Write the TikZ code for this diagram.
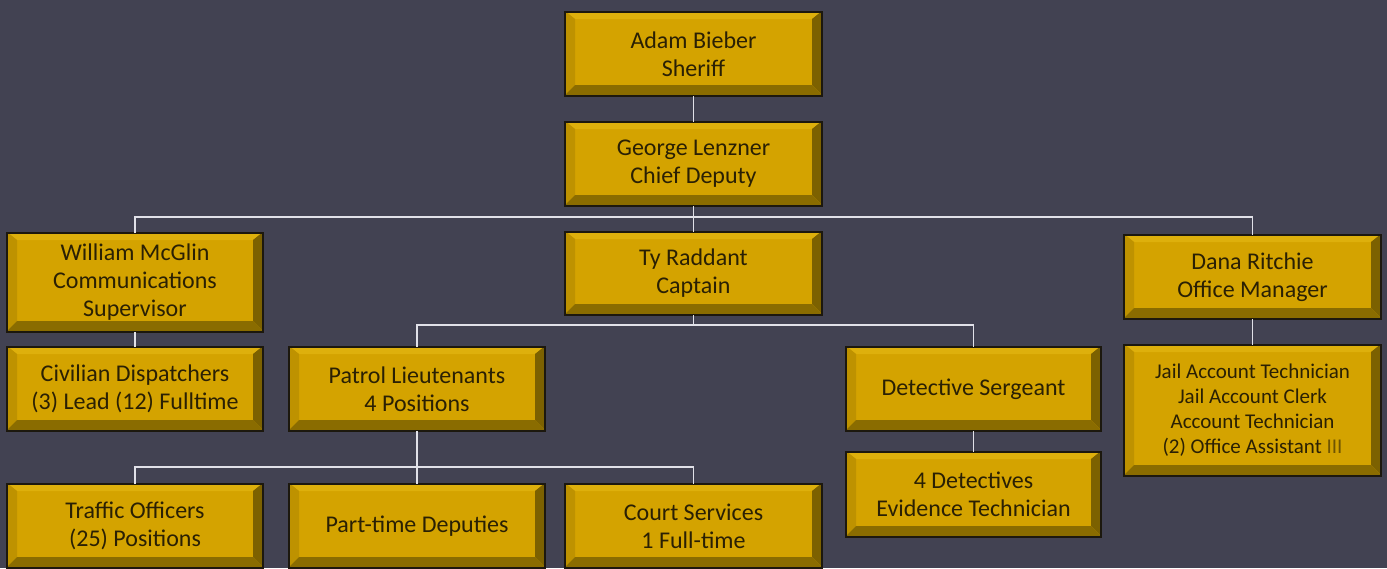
\documentclass[tikz,border=0pt]{standalone}
\usepackage{fontspec}
\setmainfont{Carlito}
\definecolor{bg}{RGB}{66,66,82}
\definecolor{face}{RGB}{212,163,0}
\definecolor{topb}{RGB}{222,176,12}
\definecolor{leftb}{RGB}{190,146,0}
\definecolor{rightb}{RGB}{124,97,0}
\definecolor{botb}{RGB}{138,108,0}
\definecolor{edge}{RGB}{28,24,14}
\definecolor{txt}{RGB}{42,32,4}
\definecolor{conncol}{RGB}{225,225,232}
\tikzset{
  boxnode/.style={draw=edge, line width=1.4pt, inner sep=0pt, outer sep=0pt, align=center,
    text=txt, font=\fontsize{24}{28}\selectfont},
  conn/.style={draw=conncol, line width=1.6pt},
}
\newcommand\orgbox[7][]{%
  \fill[face] (#3,#4) rectangle (#5,#6);
  \fill[topb] (#3,#4) -- (#5,#4) -- (#5-10,#4+8) -- (#3+10,#4+8) -- cycle;
  \fill[leftb] (#3,#4) -- (#3+10,#4+8) -- (#3+10,#6-10) -- (#3,#6) -- cycle;
  \fill[rightb] (#5,#4) -- (#5-10,#4+8) -- (#5-10,#6-10) -- (#5,#6) -- cycle;
  \fill[botb] (#3,#6) -- (#3+10,#6-10) -- (#5-10,#6-10) -- (#5,#6) -- cycle;
  \node[boxnode, minimum width={(#5-#3)*1pt}, minimum height={(#6-#4)*1pt}, #1]
    (#2) at ({(#3+#5)/2},{(#4+#6)/2+1}) {#7};%
}
\begin{document}
\begin{tikzpicture}[x=1pt,y=-1pt]
\useasboundingbox (0,0) rectangle (1387,568);
\fill[bg] (0,0) rectangle (1387,568);
\orgbox{adam}{565}{11}{822}{95}{Adam Bieber\\Sheriff}
\orgbox{george}{565}{121}{822}{205}{George Lenzner\\Chief Deputy}
\orgbox{william}{7}{232}{263}{331}{William McGlin\\Communications\\Supervisor}
\orgbox{ty}{565}{231}{822}{314}{Ty Raddant\\Captain}
\orgbox{dana}{1124}{234}{1381}{318}{Dana Ritchie\\Office Manager}
\orgbox{civ}{7}{346}{263}{430}{Civilian Dispatchers\\(3) Lead (12) Fulltime}
\orgbox{patrol}{289}{346}{545}{430}{Patrol Lieutenants\\4 Positions}
\orgbox{detsgt}{846}{346}{1101}{430}{Detective Sergeant}
\orgbox[font=\fontsize{21}{25}\selectfont]{jail}{1124}{344}{1381}{475}{Jail Account Technician\\Jail Account Clerk\\Account Technician\\(2) Office Assistant {\color{txt!60!face}III}}
\orgbox{dets}{846}{451}{1101}{536}{4 Detectives\\Evidence Technician}
\orgbox{traffic}{7}{483}{263}{567}{Traffic Officers\\(25) Positions}
\orgbox{parttime}{289}{483}{545}{567}{Part-time Deputies}
\orgbox{court}{565}{483}{822}{567}{Court Services\\1 Full-time}
% connectors
\draw[conn] (adam.south) -- (george.north);
\draw[conn] (george.south) -- (ty.north);
\draw[conn] (william.north) -- (william.north |- 0,217) -- (dana.north |- 0,217) -- (dana.north);
\draw[conn] (ty.south) -- (ty.south |- 0,325);
\draw[conn] (patrol.north) -- (patrol.north |- 0,325) -- (detsgt.north |- 0,325) -- (detsgt.north);
\draw[conn] (william.south) -- (civ.north);
\draw[conn] (dana.south) -- (jail.north);
\draw[conn] (detsgt.south) -- (dets.north);
\draw[conn] (patrol.south) -- (parttime.north);
\draw[conn] (traffic.north) -- (traffic.north |- 0,467) -- (court.north |- 0,467) -- (court.north);
\end{tikzpicture}
\end{document}
